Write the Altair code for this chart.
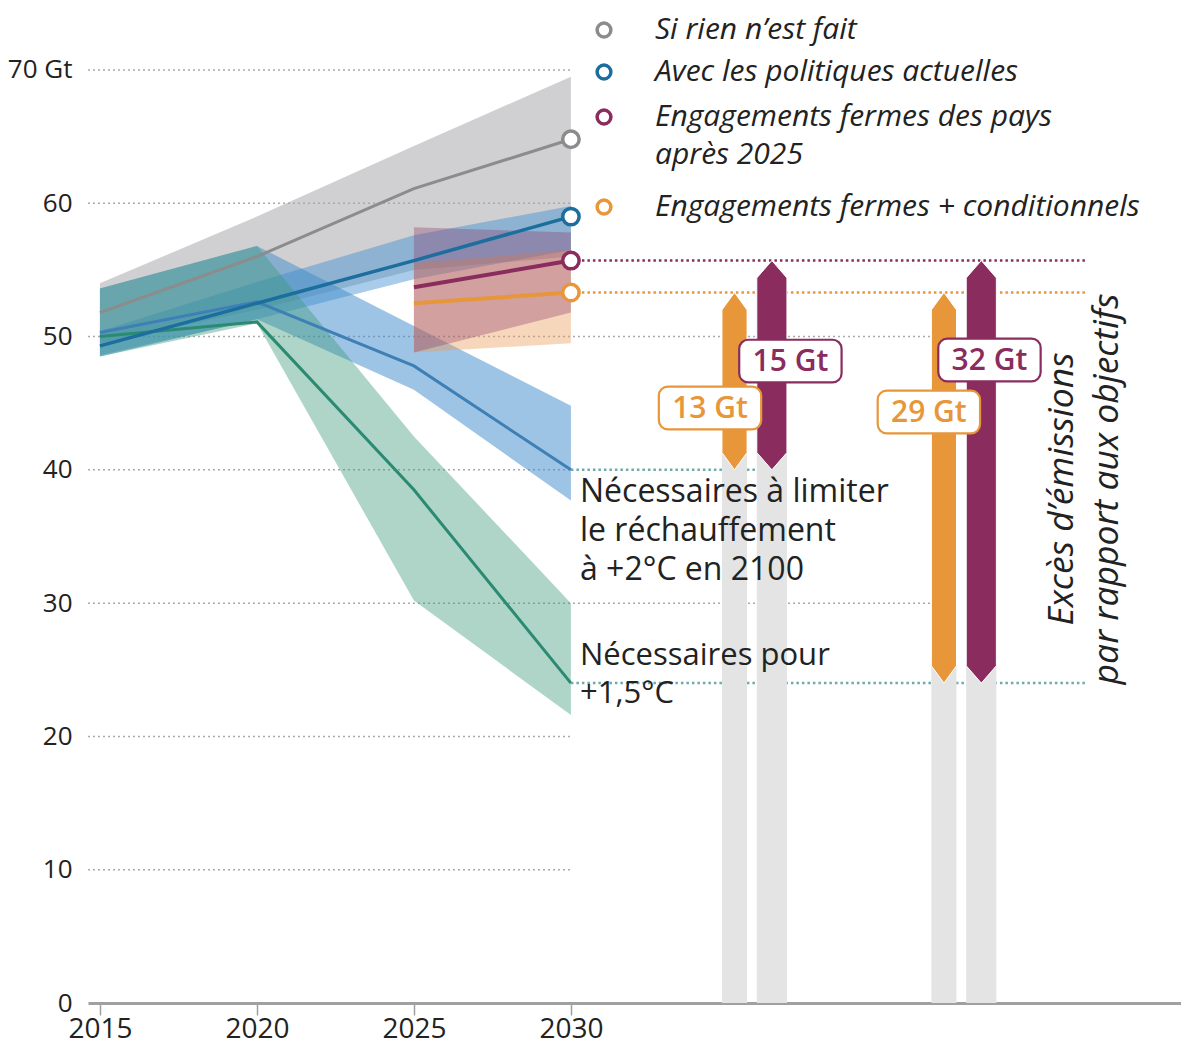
import altair as alt
import pandas as pd

# ---------------- data ----------------
years = [2015, 2020, 2025, 2030]
rien = [51.8, 56.0, 61.1, 64.8]
rien_lo = [49.5, 52.0, 55.0, 56.0]
rien_hi = [54.0, 59.0, 64.3, 69.5]
politiques = [49.3, 52.5, 55.7, 59.0]
politiques_lo = [48.6, 51.3, 54.3, 56.5]
politiques_hi = [50.4, 54.1, 57.6, 59.8]
deux = [50.3, 52.6, 47.8, 40.0]
deux_lo = [48.5, 51.3, 46.0, 37.7]
deux_hi = [53.6, 56.8, 50.8, 44.8]
uncinq = [50.0, 51.1, 38.5, 24.0]
uncinq_lo = [48.5, 51.0, 30.2, 21.6]
uncinq_hi = [53.6, 56.8, 42.5, 30.0]
years_ndc = [2025, 2030]
fermes = [53.7, 55.7]
fermes_lo = [48.8, 51.8]
fermes_hi = [58.2, 57.8]
cond = [52.5, 53.3]
cond_lo = [48.8, 49.5]
cond_hi = [55.5, 56.5]
gap_labels = ["13 Gt", "15 Gt", "29 Gt", "32 Gt"]
gap_series = ["cond", "fermes", "cond", "fermes"]
gap_target = ["2C", "2C", "1.5C", "1.5C"]
y_ticks = [0, 10, 20, 30, 40, 50, 60, 70]
x_ticks = [2015, 2020, 2025, 2030]
legend_labels = ["Si rien n’est fait", "Avec les politiques actuelles",
                 "Engagements fermes des pays", "Engagements fermes + conditionnels"]

# ---------------- layout / style ----------------
FONT = "Open Sans"
W, H = 1093, 995
XMIN, XMAX = 2014.62, 2049.43
YMAX = 74.65
REF_END = 2046.37
REF_END_2C = 2036.8
GRID_EXT = 2041.9
GRID_LONG = [30, 50]
ARROW_X = [2035.21, 2036.40, 2041.88, 2043.07]
ARROW_HW = [0.40, 0.48, 0.40, 0.48]
TIP = 1.3
LABEL_X = [2034.43, 2036.99, 2041.40, 2043.33]
LABEL_Y = [44.64, 48.16, 44.34, 48.24]
BOX_HW, BOX_HH = 1.63, 1.6

C_GREY = "#8c8c8c"
C_BLUE = "#1b6e9e"
C_2C = "#3e80b6"
C_GREEN = "#2b8a72"
C_MAROON = "#8a2c5e"
C_ORANGE = "#e8963a"
C_TEAL = "#6fa9a9"
C_TXT = "#222222"

xs = alt.Scale(domain=[XMIN, XMAX], nice=False, zero=False)
ys = alt.Scale(domain=[0, YMAX], nice=False, zero=False)

x_axis = alt.Axis(values=x_ticks, format="d", grid=False, domainColor="#a0a0a0",
                  domainWidth=3, tickColor="#a0a0a0", tickWidth=1.5, tickSize=12,
                  labelFontSize=28, labelFont=FONT, labelColor=C_TXT, labelPadding=0,
                  title=None, labelFlush=False)
y_axis = alt.Axis(values=y_ticks, grid=False, domain=False, ticks=False, labelPadding=16,
                  labelFontSize=26, labelFont=FONT, labelColor=C_TXT, title=None,
                  labelExpr="datum.value == 70 ? '70 Gt' : datum.label")


def X(f):
    return alt.X(f, type="quantitative", scale=xs, axis=x_axis)


def Y(f):
    return alt.Y(f, type="quantitative", scale=ys, axis=y_axis)


layers = []

# gridlines
grid_df = pd.DataFrame({
    "y": y_ticks[1:],
    "x0": [XMIN] * (len(y_ticks) - 1),
    "x1": [GRID_EXT if v in GRID_LONG else 2030 for v in y_ticks[1:]],
})
layers.append(
    alt.Chart(grid_df).mark_rule(color="#aaaaaa", strokeWidth=1.5, strokeDash=[2, 3]).encode(
        x=X("x0"), x2="x1:Q", y=Y("y"))
)


def band(yrs, lo, hi, color, op):
    df = pd.DataFrame({"year": yrs, "lo": lo, "hi": hi})
    return alt.Chart(df).mark_area(orient="vertical", color=color, opacity=op).encode(
        x=X("year"), y=Y("lo"), y2="hi:Q")


def line(yrs, vals, color, w):
    df = pd.DataFrame({"year": yrs, "v": vals})
    return alt.Chart(df).mark_line(color=color, strokeWidth=w).encode(x=X("year"), y=Y("v"))


layers += [
    band(years, rien_lo, rien_hi, "#a9a9ad", 0.55),
    band(years, politiques_lo, politiques_hi, "#3f8fd0", 0.45),
    band(years, deux_lo, deux_hi, "#3d8acb", 0.5),
    band(years, uncinq_lo, uncinq_hi, "#3e9c7c", 0.42),
    band(years_ndc, cond_lo, cond_hi, "#eb9a55", 0.4),
    band(years_ndc, fermes_lo, fermes_hi, "#8b3a6a", 0.35),
]
layers += [
    line(years, rien, C_GREY, 3),
    line(years, uncinq, C_GREEN, 3),
    line(years, deux, C_2C, 3),
    line(years, politiques, C_BLUE, 3.5),
    line(years_ndc, fermes, C_MAROON, 4),
    line(years_ndc, cond, C_ORANGE, 4),
]

# dotted reference lines to the right
top_of = {"cond": cond[-1], "fermes": fermes[-1]}
bot_of = {"2C": deux[-1], "1.5C": uncinq[-1]}
col_of = {"cond": C_ORANGE, "fermes": C_MAROON}
ref_df = pd.DataFrame({
    "y": [fermes[-1], cond[-1], deux[-1], uncinq[-1]],
    "x0": [2030] * 4,
    "x1": [REF_END, REF_END, REF_END_2C, REF_END],
    "col": [C_MAROON, C_ORANGE, C_TEAL, C_TEAL],
})
layers.append(
    alt.Chart(ref_df).mark_rule(strokeWidth=2.5, strokeDash=[2.5, 3]).encode(
        x=X("x0"), x2="x1:Q", y=Y("y"), color=alt.Color("col:N", scale=None))
)

# grey background bars + arrows
bg_rows, arrow_rows = [], []
for i, (s, t) in enumerate(zip(gap_series, gap_target)):
    lo, hi = bot_of[t], top_of[s]
    xc, hw = ARROW_X[i], ARROW_HW[i]
    bg_rows.append({"x0": xc - hw, "x1": xc + hw, "y0": 0, "y1": lo + TIP})
    for k in (-1, 0, 1):
        arrow_rows.append({"id": i, "x": xc + k * hw,
                           "lo": lo + (TIP if k else 0), "hi": hi - (TIP if k else 0),
                           "col": col_of[s]})
layers.append(
    alt.Chart(pd.DataFrame(bg_rows)).mark_rect(color="#e4e4e4").encode(
        x=X("x0"), x2="x1:Q", y=Y("y0"), y2="y1:Q")
)
layers.append(
    alt.Chart(pd.DataFrame(arrow_rows)).mark_area(orient="vertical", stroke="white",
                                                   strokeWidth=1).encode(
        x=X("x"), y=Y("lo"), y2="hi:Q", color=alt.Color("col:N", scale=None),
        detail="id:N")
)

# labels in boxes
lab_df = pd.DataFrame({
    "t": gap_labels, "x": LABEL_X, "y": LABEL_Y,
    "x0": [v - BOX_HW for v in LABEL_X], "x1": [v + BOX_HW for v in LABEL_X],
    "y0": [v - BOX_HH for v in LABEL_Y], "y1": [v + BOX_HH for v in LABEL_Y],
    "col": [col_of[s] for s in gap_series],
})
layers.append(
    alt.Chart(lab_df).mark_rect(fill="white", strokeWidth=2.2, cornerRadius=9).encode(
        x=X("x0"), x2="x1:Q", y=Y("y0"), y2="y1:Q", stroke=alt.Stroke("col:N", scale=None))
)
layers.append(
    alt.Chart(lab_df).mark_text(font=FONT, fontSize=30, fontWeight=600, baseline="middle",
                                dy=1).encode(
        x=X("x"), y=Y("y"), text="t:N", color=alt.Color("col:N", scale=None))
)

# end circles
circ_df = pd.DataFrame({
    "year": [2030] * 4,
    "v": [rien[-1], politiques[-1], fermes[-1], cond[-1]],
    "col": [C_GREY, C_BLUE, C_MAROON, C_ORANGE],
})
layers.append(
    alt.Chart(circ_df).mark_point(shape="circle", filled=True, fill="white", size=270,
                                  strokeWidth=3.5, opacity=1).encode(
        x=X("year"), y=Y("v"), stroke=alt.Stroke("col:N", scale=None))
)

# ---------------- text annotations & legend ----------------
ONE = pd.DataFrame({"k": [0]})
OX, OY = 88, 8


def txt(s, px, py, size=32, style="normal", angle=0, align="left"):
    return alt.Chart(ONE).mark_text(text=s, font=FONT, fontSize=size, fontStyle=style,
                                    color=C_TXT, align=align, baseline="middle",
                                    angle=angle).encode(
        x=alt.value(px - OX), y=alt.value(py - OY))


layers += [
    txt("Nécessaires à limiter", 580, 492),
    txt("le réchauffement", 580, 531),
    txt("à +2°C en 2100", 580, 570),
    txt("Nécessaires pour", 580, 656, size=31),
    txt("+1,5°C", 580, 694, size=31),
    txt("Excès d’émissions", 1062, 489, size=35.5, style="italic", angle=270,
        align="center"),
    txt("par rapport aux objectifs", 1107, 489, size=35.5, style="italic", angle=270,
        align="center"),
]

LEG_Y = [30, 72, 117, 207]
leg_cols = [C_GREY, C_BLUE, C_MAROON, C_ORANGE]
for lab, ly, c in zip(legend_labels, LEG_Y, leg_cols):
    layers.append(
        alt.Chart(ONE).mark_point(shape="circle", filled=True, fill="white", stroke=c,
                                  size=190, strokeWidth=3.5, opacity=1).encode(
            x=alt.value(604 - OX), y=alt.value(ly - OY))
    )
    layers.append(txt(lab, 655, ly, size=30, style="italic"))
layers.append(txt("après 2025", 655, 155, size=30, style="italic"))

chart = alt.layer(*layers).properties(
    width=W, height=H,
    autosize=alt.AutoSizeParams(type="none"),
    padding={"left": 80, "top": 0, "right": 0, "bottom": 45},
).configure_view(stroke=None)

chart.save("out.html", embed_options={"renderer": "svg", "actions": False})
